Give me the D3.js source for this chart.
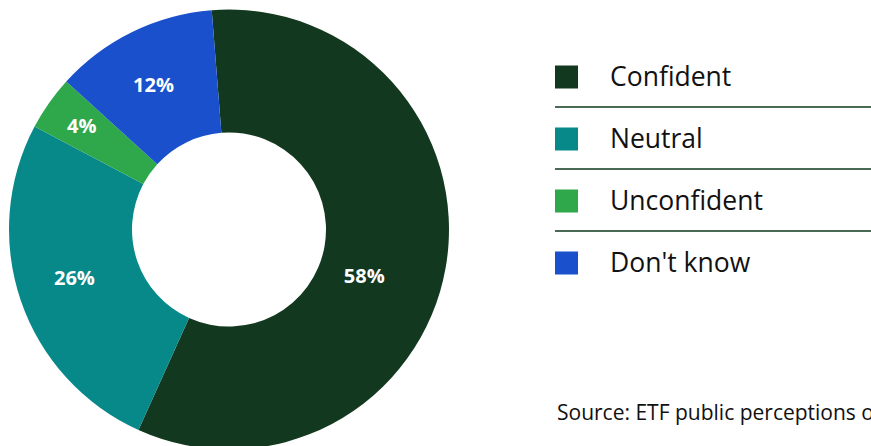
<!DOCTYPE html>
<html>
<head>
<meta charset="utf-8">
<script src="https://cdn.jsdelivr.net/npm/d3@7"></script>
<style>
  body { margin: 0; background: #fff; }
  svg { display: block; font-family: "Open Sans", "Noto Sans", sans-serif; }
</style>
</head>
<body>
<div id="chart"></div>
<script>
"use strict";

// data
const categories = ["Confident", "Neutral", "Unconfident", "Don't know"];
const shares = [58, 26, 4, 12];
const colours = ["#12391f", "#07898a", "#2ea84b", "#1a50cc"];
const sourceNote = "Source: ETF public perceptions of";

const width = 871;
const height = 446;
const cx = 229, cy = 229.5;
const outerR = 220, innerR = 97;

const data = categories.map((c, i) => ({ name: c, value: shares[i], colour: colours[i] }));

const svg = d3.select("#chart")
    .append("svg")
    .attr("width", width)
    .attr("height", height);

const startA = -4.5 * Math.PI / 180;
const pie = d3.pie()
    .value(d => d.value)
    .sort(null)
    .startAngle(startA)
    .endAngle(startA + 2 * Math.PI);

const arc = d3.arc().innerRadius(innerR).outerRadius(outerR);

const g = svg.append("g").attr("transform", "translate(" + cx + "," + cy + ")");

const arcs = pie(data);

g.selectAll(".slice")
    .data(arcs)
    .enter().append("path")
    .attr("class", "slice")
    .attr("d", arc)
    .attr("fill", d => d.data.colour);

// label placement: radius and angle nudge per slice (big slice sits lower)
const labelTweak = {
    "Confident": { r: 143, da: 9 },
    "Neutral": { r: 162, da: 1.5 },
    "Unconfident": { r: 180, da: 0 },
    "Don't know": { r: 163, da: -1.5 }
};

g.selectAll(".lbl")
    .data(arcs)
    .enter().append("text")
    .attr("class", "lbl")
    .attr("transform", d => {
        const t = labelTweak[d.data.name];
        const a = (d.startAngle + d.endAngle) / 2 + t.da * Math.PI / 180;
        return "translate(" + (t.r * Math.sin(a)) + "," + (-t.r * Math.cos(a)) + ")";
    })
    .attr("text-anchor", "middle")
    .attr("dy", "0.36em")
    .attr("fill", "#fff")
    .attr("font-weight", 700)
    .attr("font-size", 20)
    .text(d => d.data.value + "%");

// legend
const y = d3.scaleBand()
    .domain(categories)
    .range([46, 294]);

const legend = svg.append("g");

legend.selectAll(".sw")
    .data(data)
    .enter().append("rect")
    .attr("x", 555)
    .attr("y", d => y(d.name) + y.bandwidth() / 2 - 11.5)
    .attr("width", 23)
    .attr("height", 23)
    .attr("fill", d => d.colour);

legend.selectAll(".lt")
    .data(data)
    .enter().append("text")
    .attr("x", 610)
    .attr("y", d => y(d.name) + y.bandwidth() / 2)
    .attr("dy", "0.35em")
    .attr("font-size", 26.5)
    .attr("fill", "#111")
    .text(d => d.name);

legend.selectAll(".sep")
    .data(categories.slice(1))
    .enter().append("line")
    .attr("x1", 555)
    .attr("x2", width)
    .attr("y1", d => y(d) - 1)
    .attr("y2", d => y(d) - 1)
    .attr("stroke", "#4b6a56")
    .attr("stroke-width", 2);

svg.append("text")
    .attr("x", 557)
    .attr("y", 420)
    .attr("font-size", 21)
    .attr("fill", "#111")
    .text(sourceNote);
</script>
</body>
</html>
